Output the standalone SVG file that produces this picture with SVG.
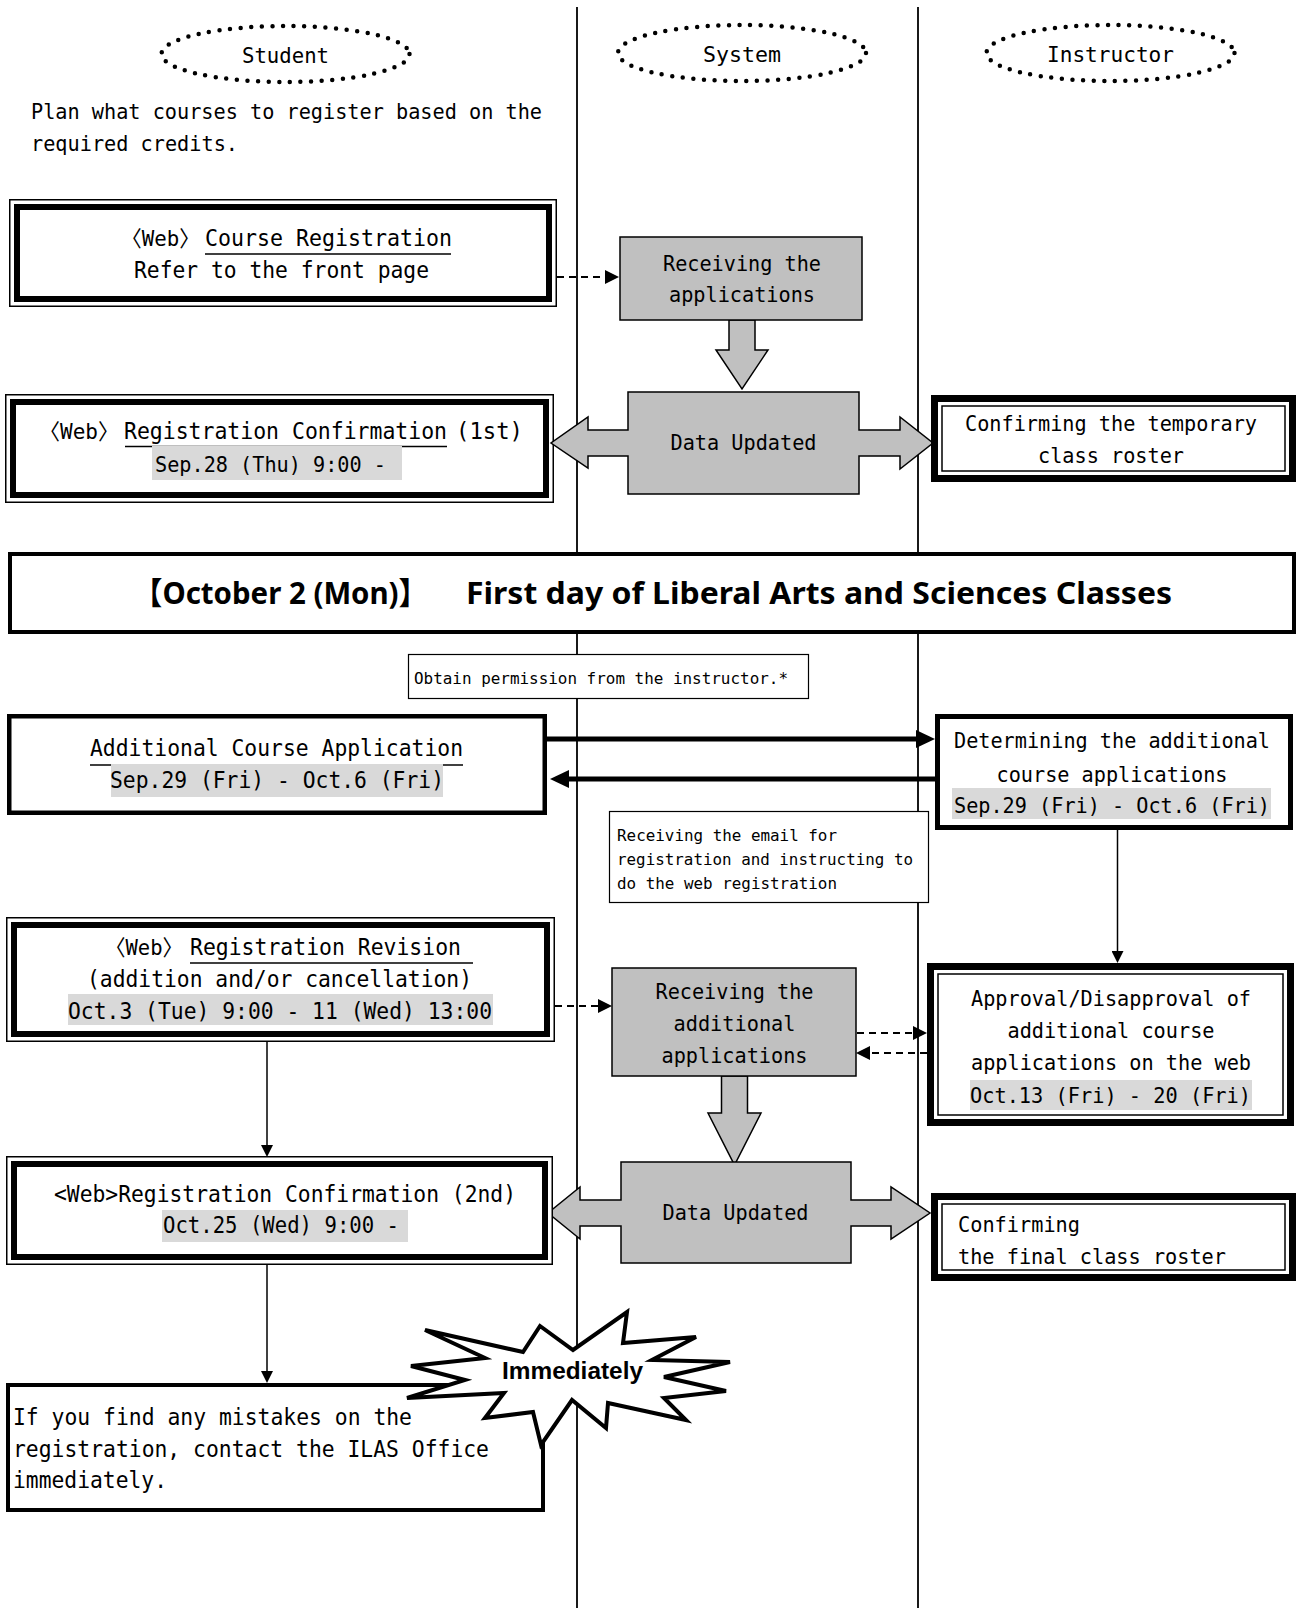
<svg xmlns="http://www.w3.org/2000/svg" width="1297" height="1608" viewBox="0 0 1297 1608">
  <style>
    .t { font-family: "DejaVu Sans Mono", "Noto Sans CJK JP", monospace; font-size: 22px; fill: #000; }
    .b { font-size: 22.5px; }
    .s { font-size: 16.5px; }
    .m { text-anchor: middle; }
    .lane { stroke: #000; stroke-width: 1.8; }
    .hl { fill: #d9d9d9; }
    .ul { stroke: #000; stroke-width: 1.5; fill: none; }
    .sys { fill: #c0c0c0; stroke: #000; stroke-width: 1.5; stroke-linejoin: miter; }
    .role { fill: none; stroke: #000; stroke-width: 4.5; stroke-linecap: round; stroke-dasharray: 0 10.6; }
    .thin { fill: none; stroke: #000; stroke-width: 1.5; }
    .thick6 { fill: none; stroke: #000; stroke-width: 6; }
    .thick7 { fill: none; stroke: #000; stroke-width: 7; }
    .wbox { fill: #fff; }
    .dash { stroke: #000; stroke-width: 2; stroke-dasharray: 7 5; fill: none; }
    .solid { stroke: #000; stroke-width: 1.5; fill: none; }
    .heavy { stroke: #000; stroke-width: 5; fill: none; }
    .banner { font-family: "Noto Sans", "Noto Sans CJK JP", sans-serif; font-weight: 700; font-size: 31px; fill: #000; }
    .burst { font-family: "Liberation Sans", Arial, sans-serif; font-weight: 700; font-size: 23px; fill: #000; text-anchor: middle; }
  </style>
  <defs>
    <marker id="head-thin" viewBox="0 -6 12 12" refX="0" refY="0" markerWidth="12" markerHeight="12" markerUnits="userSpaceOnUse" orient="auto">
      <path d="M0,-6 L12,0 L0,6 z" fill="#000"/>
    </marker>
    <marker id="head-dash" viewBox="0 -7 14 14" refX="0" refY="0" markerWidth="14" markerHeight="14" markerUnits="userSpaceOnUse" orient="auto">
      <path d="M0,-7 L14,0 L0,7 z" fill="#000"/>
    </marker>
    <marker id="head-heavy" viewBox="0 -9 19 18" refX="0" refY="0" markerWidth="19" markerHeight="18" markerUnits="userSpaceOnUse" orient="auto">
      <path d="M0,-9 L19,0 L0,9 z" fill="#000"/>
    </marker>
  </defs>

  <rect width="1297" height="1608" fill="#fff"/>

  <!-- swimlane dividers -->
  <g id="lanes">
    <line class="lane" x1="577" y1="7" x2="577" y2="1608"/>
    <line class="lane" x1="918" y1="7" x2="918" y2="1608"/>
  </g>

  <!-- lane headers -->
  <g id="header-student">
    <ellipse class="role" cx="285.5" cy="54" rx="124" ry="28"/>
    <text class="t m" x="285.5" y="63" textLength="87" lengthAdjust="spacingAndGlyphs">Student</text>
  </g>
  <g id="header-system">
    <ellipse class="role" cx="742" cy="53" rx="124" ry="28"/>
    <text class="t m" x="742" y="62" textLength="78" lengthAdjust="spacingAndGlyphs">System</text>
  </g>
  <g id="header-instructor">
    <ellipse class="role" cx="1110.5" cy="53" rx="124" ry="28"/>
    <text class="t m" x="1110.5" y="62" textLength="127" lengthAdjust="spacingAndGlyphs">Instructor</text>
  </g>

  <g id="note-plan">
    <text class="t" x="31" y="119" textLength="511" lengthAdjust="spacingAndGlyphs">Plan what courses to register based on the</text>
    <text class="t" x="31" y="151" textLength="207" lengthAdjust="spacingAndGlyphs">required credits.</text>
  </g>

  <!-- connectors -->
  <g id="connectors">
    <line class="dash" x1="557" y1="277" x2="605" y2="277" marker-end="url(#head-dash)"/>
    <line class="dash" x1="555" y1="1006" x2="598" y2="1006" marker-end="url(#head-dash)"/>
    <line class="dash" x1="857" y1="1033" x2="913" y2="1033" marker-end="url(#head-dash)"/>
    <line class="dash" x1="927" y1="1053" x2="870" y2="1053" marker-end="url(#head-dash)"/>
    <line class="heavy" x1="547" y1="739" x2="916" y2="739" marker-end="url(#head-heavy)"/>
    <line class="heavy" x1="935" y1="779" x2="569" y2="779" marker-end="url(#head-heavy)"/>
    <line class="solid" x1="1117.5" y1="830" x2="1117.5" y2="951" marker-end="url(#head-thin)"/>
    <line class="solid" x1="267" y1="1042" x2="267" y2="1145" marker-end="url(#head-thin)"/>
    <line class="solid" x1="267" y1="1265" x2="267" y2="1371" marker-end="url(#head-thin)"/>
    <polygon class="sys" points="729,320 729,350 716,350 742,389 768,350 755,350 755,320"/>
    <polygon class="sys" points="721.5,1076 721.5,1113 708,1113 734.5,1165 761,1113 747.5,1113 747.5,1076"/>
  </g>

  <!-- Student: course registration -->
  <g id="n-course-registration">
    <rect class="wbox" x="9" y="199" width="548" height="108"/>
    <rect class="thin" x="9.75" y="199.75" width="546.5" height="106.5"/>
    <rect class="thick6" x="17" y="207" width="532" height="92"/>
    <line class="ul" x1="205" y1="254" x2="451" y2="254"/>
    <text class="t" x="121" y="246" textLength="79" lengthAdjust="spacingAndGlyphs">〈Web〉</text>
    <text class="t b" x="205" y="246" textLength="247" lengthAdjust="spacingAndGlyphs">Course Registration</text>
    <text class="t b" x="134" y="278" textLength="295" lengthAdjust="spacingAndGlyphs">Refer to the front page</text>
  </g>

  <!-- System: receiving applications -->
  <g id="n-receiving">
    <rect class="sys" x="620" y="237" width="242" height="83"/>
    <text class="t m" x="742" y="271" textLength="158" lengthAdjust="spacingAndGlyphs">Receiving the</text>
    <text class="t m" x="742" y="302" textLength="146" lengthAdjust="spacingAndGlyphs">applications</text>
  </g>

  <!-- Student: registration confirmation (1st) -->
  <g id="n-confirm-1st">
    <rect class="wbox" x="5" y="394" width="549" height="109"/>
    <rect class="thin" x="5.75" y="394.75" width="547.5" height="107.5"/>
    <rect class="thick6" x="13" y="402" width="533" height="93"/>
    <line class="ul" x1="125" y1="446.5" x2="447" y2="446.5"/>
    <rect class="hl" x="152" y="446" width="250" height="34"/>
    <text class="t" x="39" y="439" textLength="80" lengthAdjust="spacingAndGlyphs">〈Web〉</text>
    <text class="t b" x="124" y="439" textLength="323" lengthAdjust="spacingAndGlyphs">Registration Confirmation</text>
    <text class="t b" x="456" y="439" textLength="67" lengthAdjust="spacingAndGlyphs">(1st)</text>
    <text class="t" x="155" y="472" textLength="231" lengthAdjust="spacingAndGlyphs">Sep.28 (Thu) 9:00 -</text>
  </g>

  <!-- System: data updated (1) -->
  <g id="n-data-updated-1">
    <polygon class="sys" points="628,392 859,392 859,430 900,430 900,417 933,443 900,469 900,456 859,456 859,494 628,494 628,456 588,456 588,468 551,443 588,417 588,430 628,430"/>
    <text class="t m" x="743.5" y="450" textLength="146" lengthAdjust="spacingAndGlyphs">Data Updated</text>
  </g>

  <!-- Instructor: temporary roster -->
  <g id="n-temp-roster">
    <rect class="wbox" x="931" y="395" width="365" height="87"/>
    <rect class="thick7" x="934.5" y="398.5" width="358" height="80"/>
    <rect class="thin" x="942" y="406" width="343" height="65"/>
    <text class="t m" x="1111" y="431" textLength="292" lengthAdjust="spacingAndGlyphs">Confirming the temporary</text>
    <text class="t m" x="1111" y="463" textLength="146" lengthAdjust="spacingAndGlyphs">class roster</text>
  </g>

  <!-- first day of classes -->
  <g id="n-first-day">
    <rect x="10" y="554" width="1284" height="78" fill="#fff" stroke="#000" stroke-width="4"/>
    <text class="banner" x="133" y="604" textLength="295" lengthAdjust="spacingAndGlyphs">【October 2 (Mon)】</text>
    <text class="banner" x="466" y="604" textLength="706" lengthAdjust="spacingAndGlyphs">First day of Liberal Arts and Sciences Classes</text>
  </g>

  <g id="n-permission">
    <rect x="408.5" y="654.5" width="400" height="44" fill="#fff" stroke="#000" stroke-width="1.2"/>
    <text class="t s" x="414" y="684" textLength="374" lengthAdjust="spacingAndGlyphs">Obtain permission from the instructor.*</text>
  </g>

  <!-- Student: additional course application -->
  <g id="n-additional-app">
    <rect x="9.25" y="716.25" width="535.5" height="96.5" fill="#fff" stroke="#000" stroke-width="4.5"/>
    <line class="ul" x1="90" y1="765" x2="463" y2="765"/>
    <rect class="hl" x="111" y="764" width="332" height="33"/>
    <text class="t b" x="90" y="756" textLength="373" lengthAdjust="spacingAndGlyphs">Additional Course Application</text>
    <text class="t b" x="110" y="788" textLength="334" lengthAdjust="spacingAndGlyphs">Sep.29 (Fri) - Oct.6 (Fri)</text>
  </g>

  <!-- Instructor: determining -->
  <g id="n-determining">
    <rect x="937.5" y="716.5" width="353" height="111" fill="#fff" stroke="#000" stroke-width="5"/>
    <rect class="hl" x="952" y="788" width="319" height="31"/>
    <text class="t m" x="1112" y="748" textLength="316" lengthAdjust="spacingAndGlyphs">Determining the additional</text>
    <text class="t m" x="1112" y="782" textLength="231" lengthAdjust="spacingAndGlyphs">course applications</text>
    <text class="t m" x="1112" y="813" textLength="316" lengthAdjust="spacingAndGlyphs">Sep.29 (Fri) - Oct.6 (Fri)</text>
  </g>

  <g id="n-email">
    <rect x="609.5" y="811.5" width="319" height="91" fill="#fff" stroke="#000" stroke-width="1.2"/>
    <text class="t s" x="617" y="841" textLength="220" lengthAdjust="spacingAndGlyphs">Receiving the email for</text>
    <text class="t s" x="617" y="865" textLength="296" lengthAdjust="spacingAndGlyphs">registration and instructing to</text>
    <text class="t s" x="617" y="889" textLength="220" lengthAdjust="spacingAndGlyphs">do the web registration</text>
  </g>

  <!-- Student: registration revision -->
  <g id="n-revision">
    <rect class="wbox" x="6" y="917" width="549" height="125"/>
    <rect class="thin" x="6.75" y="917.75" width="547.5" height="123.5"/>
    <rect class="thick6" x="14" y="925" width="533" height="109"/>
    <line class="ul" x1="190" y1="963" x2="473" y2="963"/>
    <rect class="hl" x="68" y="994" width="425" height="31"/>
    <text class="t" x="105" y="955" textLength="78" lengthAdjust="spacingAndGlyphs">〈Web〉</text>
    <text class="t b" x="190" y="955" textLength="271" lengthAdjust="spacingAndGlyphs">Registration Revision</text>
    <text class="t b" x="87" y="987" textLength="385" lengthAdjust="spacingAndGlyphs">(addition and/or cancellation)</text>
    <text class="t b" x="68" y="1019" textLength="424" lengthAdjust="spacingAndGlyphs">Oct.3 (Tue) 9:00 - 11 (Wed) 13:00</text>
  </g>

  <!-- System: receiving additional applications -->
  <g id="n-receiving-additional">
    <rect class="sys" x="612" y="968" width="244" height="108"/>
    <text class="t m" x="734.5" y="999" textLength="158" lengthAdjust="spacingAndGlyphs">Receiving the</text>
    <text class="t m" x="734.5" y="1031" textLength="122" lengthAdjust="spacingAndGlyphs">additional</text>
    <text class="t m" x="734.5" y="1063" textLength="146" lengthAdjust="spacingAndGlyphs">applications</text>
  </g>

  <!-- Instructor: approval -->
  <g id="n-approval">
    <rect class="wbox" x="927" y="963" width="367" height="163"/>
    <rect class="thick7" x="930.5" y="966.5" width="360" height="156"/>
    <rect class="thin" x="938" y="974" width="345" height="141"/>
    <rect class="hl" x="970" y="1080" width="282" height="30"/>
    <text class="t m" x="1111" y="1006" textLength="280" lengthAdjust="spacingAndGlyphs">Approval/Disapproval of</text>
    <text class="t m" x="1111" y="1038" textLength="207" lengthAdjust="spacingAndGlyphs">additional course</text>
    <text class="t m" x="1111" y="1070" textLength="280" lengthAdjust="spacingAndGlyphs">applications on the web</text>
    <text class="t" x="970" y="1103" textLength="281" lengthAdjust="spacingAndGlyphs">Oct.13 (Fri) - 20 (Fri)</text>
  </g>

  <!-- System: data updated (2) -->
  <g id="n-data-updated-2">
    <polygon class="sys" points="621,1162 851,1162 851,1200 891,1200 891,1187 930,1213 891,1239 891,1226 851,1226 851,1263 621,1263 621,1226 580,1226 580,1239 548,1213 580,1187 580,1200 621,1200"/>
    <text class="t m" x="735.5" y="1220" textLength="146" lengthAdjust="spacingAndGlyphs">Data Updated</text>
  </g>

  <!-- Student: registration confirmation (2nd) -->
  <g id="n-confirm-2nd">
    <rect class="wbox" x="6" y="1156" width="547" height="109"/>
    <rect class="thin" x="6.75" y="1156.75" width="545.5" height="107.5"/>
    <rect class="thick6" x="14" y="1164" width="531" height="93"/>
    <rect class="hl" x="162" y="1210" width="246" height="32"/>
    <text class="t b" x="54" y="1202" textLength="462" lengthAdjust="spacingAndGlyphs">&lt;Web&gt;Registration Confirmation (2nd)</text>
    <text class="t b" x="163" y="1233" textLength="236" lengthAdjust="spacingAndGlyphs">Oct.25 (Wed) 9:00 -</text>
  </g>

  <!-- Instructor: final roster -->
  <g id="n-final-roster">
    <rect class="wbox" x="931" y="1193" width="365" height="88"/>
    <rect class="thick7" x="934.5" y="1196.5" width="358" height="81"/>
    <rect class="thin" x="942" y="1204" width="343" height="66"/>
    <text class="t" x="958" y="1232" textLength="122" lengthAdjust="spacingAndGlyphs">Confirming</text>
    <text class="t" x="958" y="1264" textLength="268" lengthAdjust="spacingAndGlyphs">the final class roster</text>
  </g>

  <!-- Student: contact office -->
  <g id="n-mistakes">
    <rect x="8" y="1385" width="535" height="125" fill="#fff" stroke="#000" stroke-width="4"/>
    <text class="t b" x="13" y="1425" textLength="399" lengthAdjust="spacingAndGlyphs">If you find any mistakes on the</text>
    <text class="t b" x="13" y="1457" textLength="476" lengthAdjust="spacingAndGlyphs">registration, contact the ILAS Office</text>
    <text class="t b" x="13" y="1488" textLength="154" lengthAdjust="spacingAndGlyphs">immediately.</text>
  </g>

  <g id="n-immediately">
    <polygon points="425,1330 523,1352 540,1326 573,1350 627,1312 623,1343 696,1337 652,1360 730,1362 664,1377 726,1391 664,1398 686,1420 608,1403 606,1428 572,1400 541,1445 533,1412 485,1418 504,1393 407,1398 465,1380 411,1366 485,1358" fill="#fff" stroke="#000" stroke-width="4" stroke-linejoin="miter"/>
    <text class="burst" x="572.5" y="1379" textLength="141" lengthAdjust="spacingAndGlyphs">Immediately</text>
  </g>
</svg>
